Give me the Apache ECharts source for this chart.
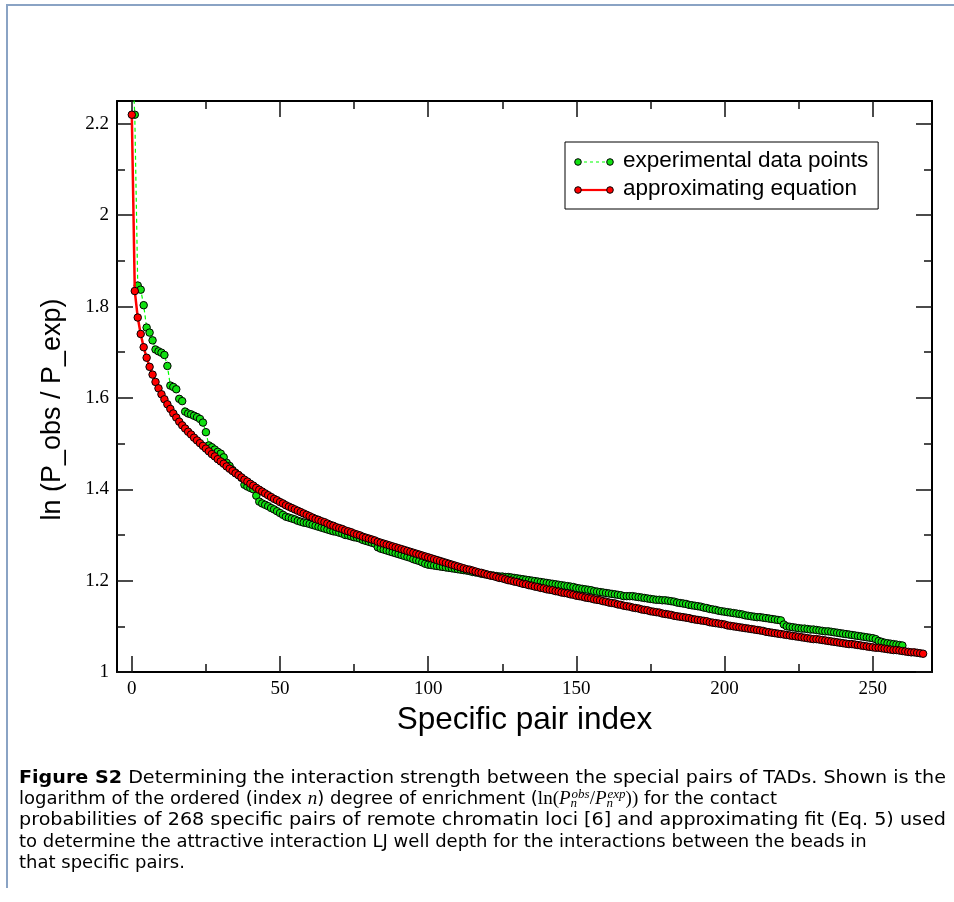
<!DOCTYPE html>
<html>
<head>
<meta charset="utf-8">
<title>Specific pair enrichment</title>
<script src="https://cdn.jsdelivr.net/npm/echarts@6/dist/echarts.min.js"></script>
<style>
  html, body { margin: 0; padding: 0; background: #fff; }
  #chart { width: 954px; height: 902px; }
</style>
</head>
<body>
<div id="chart"></div>
<script>
// Tick positions for both axes (major ticks carry labels, minor ticks are short marks)
const xMajorTicks = [0, 50, 100, 150, 200, 250];
const xMinorTicks = [25, 75, 125, 175, 225];
const yMajorTicks = [1, 1.2, 1.4, 1.6, 1.8, 2, 2.2];
const yMinorTicks = [1.1, 1.3, 1.5, 1.7, 1.9, 2.1];

const seriesNames = ['experimental data points', 'approximating equation'];

// ln(P_obs / P_exp) per ordered pair index n = 0, 1, 2, ...
const experimental = [
  2.36, 2.22, 1.846, 1.837, 1.803, 1.754, 1.743, 1.726, 1.706, 1.702,
  1.699, 1.694, 1.670, 1.627, 1.624, 1.619, 1.598, 1.593, 1.570, 1.566,
  1.564, 1.561, 1.558, 1.554, 1.546, 1.525, 1.496, 1.492, 1.487, 1.482,
  1.478, 1.470, 1.458, 1.451, 1.442, 1.436, 1.431, 1.425, 1.410, 1.406,
  1.403, 1.400, 1.386, 1.373, 1.369, 1.366, 1.363, 1.359, 1.356, 1.352,
  1.348, 1.344, 1.340, 1.338, 1.336, 1.334, 1.331, 1.329, 1.327, 1.326,
  1.324, 1.322, 1.320, 1.318, 1.316, 1.314, 1.312, 1.310, 1.308, 1.307,
  1.305, 1.303, 1.300, 1.299, 1.297, 1.295, 1.294, 1.292, 1.289, 1.287,
  1.285, 1.283, 1.281, 1.273, 1.270, 1.268, 1.266, 1.264, 1.262, 1.260,
  1.258, 1.256, 1.254, 1.252, 1.250, 1.247, 1.245, 1.243, 1.240, 1.237,
  1.235, 1.234, 1.233, 1.232, 1.231, 1.230, 1.229, 1.228, 1.227, 1.226,
  1.225, 1.224, 1.223, 1.222, 1.221, 1.219, 1.218, 1.217, 1.215, 1.214,
  1.213, 1.212, 1.211, 1.210, 1.209, 1.209, 1.208, 1.208, 1.207, 1.206,
  1.205, 1.204, 1.203, 1.202, 1.201, 1.200, 1.199, 1.198, 1.197, 1.196,
  1.195, 1.194, 1.193, 1.192, 1.191, 1.190, 1.189, 1.188, 1.187, 1.186,
  1.184, 1.183, 1.182, 1.181, 1.180, 1.179, 1.177, 1.176, 1.175, 1.174,
  1.173, 1.172, 1.171, 1.170, 1.169, 1.168, 1.166, 1.166, 1.166, 1.166,
  1.165, 1.164, 1.163, 1.162, 1.161, 1.160, 1.159, 1.158, 1.158, 1.157,
  1.157, 1.156, 1.155, 1.154, 1.152, 1.151, 1.150, 1.149, 1.147, 1.146,
  1.145, 1.144, 1.143, 1.141, 1.140, 1.138, 1.137, 1.136, 1.134, 1.133,
  1.132, 1.131, 1.130, 1.129, 1.128, 1.127, 1.126, 1.124, 1.123, 1.122,
  1.121, 1.120, 1.120, 1.119, 1.118, 1.117, 1.116, 1.115, 1.114, 1.113,
  1.104, 1.100, 1.099, 1.098, 1.097, 1.096, 1.095, 1.095, 1.094, 1.093,
  1.093, 1.092, 1.091, 1.090, 1.089, 1.089, 1.088, 1.087, 1.086, 1.085,
  1.084, 1.083, 1.082, 1.081, 1.080, 1.079, 1.078, 1.077, 1.076, 1.075,
  1.074, 1.072, 1.068, 1.066, 1.064, 1.063, 1.062, 1.061, 1.060, 1.059,
  1.058
];

// Fitted curve values per pair index n = 0, 1, 2, ...
const approximation = [
  2.220, 1.834, 1.776, 1.740, 1.711, 1.688, 1.668, 1.651, 1.635, 1.621,
  1.608, 1.597, 1.586, 1.576, 1.566, 1.557, 1.548, 1.540, 1.533, 1.526,
  1.520, 1.513, 1.507, 1.501, 1.495, 1.489, 1.483, 1.477, 1.472, 1.466,
  1.461, 1.456, 1.450, 1.445, 1.440, 1.435, 1.431, 1.426, 1.421, 1.417,
  1.412, 1.408, 1.403, 1.399, 1.395, 1.391, 1.387, 1.383, 1.379, 1.376,
  1.372, 1.369, 1.365, 1.362, 1.359, 1.356, 1.353, 1.350, 1.347, 1.344,
  1.341, 1.338, 1.335, 1.333, 1.330, 1.328, 1.325, 1.322, 1.320, 1.317,
  1.315, 1.313, 1.310, 1.308, 1.306, 1.303, 1.301, 1.299, 1.296, 1.294,
  1.292, 1.290, 1.288, 1.285, 1.283, 1.281, 1.279, 1.277, 1.275, 1.273,
  1.271, 1.269, 1.267, 1.265, 1.263, 1.261, 1.259, 1.257, 1.255, 1.253,
  1.251, 1.249, 1.247, 1.245, 1.243, 1.241, 1.239, 1.237, 1.235, 1.233,
  1.231, 1.229, 1.227, 1.225, 1.224, 1.222, 1.220, 1.218, 1.217, 1.215,
  1.213, 1.211, 1.210, 1.208, 1.206, 1.205, 1.203, 1.201, 1.200, 1.198,
  1.197, 1.195, 1.193, 1.192, 1.190, 1.189, 1.187, 1.186, 1.184, 1.183,
  1.181, 1.180, 1.179, 1.177, 1.176, 1.174, 1.173, 1.172, 1.170, 1.169,
  1.167, 1.166, 1.165, 1.163, 1.162, 1.161, 1.159, 1.158, 1.157, 1.155,
  1.154, 1.152, 1.151, 1.150, 1.148, 1.147, 1.145, 1.144, 1.143, 1.141,
  1.140, 1.139, 1.137, 1.136, 1.135, 1.133, 1.132, 1.131, 1.130, 1.128,
  1.127, 1.126, 1.125, 1.123, 1.122, 1.121, 1.120, 1.119, 1.118, 1.116,
  1.115, 1.114, 1.113, 1.112, 1.111, 1.109, 1.108, 1.107, 1.106, 1.105,
  1.104, 1.102, 1.101, 1.100, 1.099, 1.098, 1.097, 1.096, 1.095, 1.094,
  1.093, 1.092, 1.091, 1.090, 1.088, 1.087, 1.086, 1.085, 1.084, 1.083,
  1.082, 1.081, 1.080, 1.079, 1.078, 1.077, 1.076, 1.075, 1.074, 1.073,
  1.072, 1.072, 1.071, 1.070, 1.069, 1.068, 1.067, 1.066, 1.065, 1.064,
  1.063, 1.062, 1.061, 1.061, 1.060, 1.059, 1.058, 1.057, 1.056, 1.055,
  1.054, 1.053, 1.053, 1.052, 1.051, 1.050, 1.049, 1.048, 1.048, 1.047,
  1.046, 1.045, 1.044, 1.043, 1.043, 1.042, 1.041, 1.040
];

// Caption text; 'fit' lines are widened to the full text measure
const captionLines = [
  { bold: 'Figure S2', text: ' Determining the interaction strength between the special pairs of TADs. Shown is the', fit: true },
  { rich: 'logarithm of the ordered (index {it|n}) degree of enrichment ({rm|ln(}{it|P}{sub|n}{sup|obs}{rm|/}{it|P}{sub|n}{sup|exp}{rm|))} for the contact' },
  { text: 'probabilities of 268 specific pairs of remote chromatin loci [6] and approximating fit (Eq. 5) used', fit: true },
  { text: 'to determine the attractive interaction LJ well depth for the interactions between the beads in' },
  { text: 'that specific pairs.' }
];

const GREEN = '#11e011';
const RED = '#ff0000';
const X_RANGE = [-5, 270];
const Y_RANGE = [1, 2.25];

function xAxisFor(position, ticks, len, showLine, showLabels, extra) {
  return Object.assign({
    type: 'value', gridIndex: 0, position: position,
    min: X_RANGE[0], max: X_RANGE[1],
    axisLine: { show: showLine, onZero: false, lineStyle: { color: '#000', width: 2 } },
    axisTick: { show: true, inside: true, length: len, customValues: ticks,
                lineStyle: { color: '#111', width: 1.5 } },
    axisLabel: { show: showLabels, customValues: ticks, margin: 8,
                 fontFamily: 'Liberation Serif', fontSize: 19, color: '#000' },
    splitLine: { show: false }
  }, extra || {});
}

function yAxisFor(position, ticks, len, showLine, showLabels, extra) {
  return Object.assign({
    type: 'value', gridIndex: 0, position: position,
    min: Y_RANGE[0], max: Y_RANGE[1],
    axisLine: { show: showLine, onZero: false, lineStyle: { color: '#000', width: 2 } },
    axisTick: { show: true, inside: true, length: len, customValues: ticks,
                lineStyle: { color: '#111', width: 1.5 } },
    axisLabel: { show: showLabels, customValues: ticks, margin: 8,
                 fontFamily: 'Liberation Serif', fontSize: 19, color: '#000',
                 formatter: function (v) { return String(v); } },
    splitLine: { show: false }
  }, extra || {});
}

const CAP_LEFT = 19, CAP_RIGHT = 946, CAP_TOP = 778, CAP_STEP = 21.4;
const CAP_SIZE = 18;
const capFont = function (bold) {
  return (bold ? 'bold ' : '') + CAP_SIZE + 'px "DejaVu Sans"';
};

const captionRich = {
  b:   { fontFamily: 'DejaVu Sans', fontWeight: 'bold', fontSize: CAP_SIZE, lineHeight: 22, color: '#000' },
  it:  { fontFamily: 'Liberation Serif', fontStyle: 'italic', fontSize: 19, lineHeight: 22, color: '#000' },
  rm:  { fontFamily: 'Liberation Serif', fontSize: 19, lineHeight: 22, color: '#000' },
  sub: { fontFamily: 'Liberation Serif', fontStyle: 'italic', fontSize: 13, lineHeight: 12,
         verticalAlign: 'bottom', width: 1, color: '#000' },
  sup: { fontFamily: 'Liberation Serif', fontStyle: 'italic', fontSize: 13, lineHeight: 12,
         verticalAlign: 'top', color: '#000' }
};

const measureCtx = document.createElement('canvas').getContext('2d');
function textWidth(str, font) {
  measureCtx.font = font;
  return measureCtx.measureText(str).width;
}

function buildCaption() {
  return captionLines.map(function (line, i) {
    let text = line.rich || line.text;
    let sx = 1;
    if (line.fit) {
      let natural = textWidth(line.text, capFont(false));
      if (line.bold) {
        natural += textWidth(line.bold, capFont(true));
        text = '{b|' + line.bold + '}' + line.text;
      }
      sx = (CAP_RIGHT - CAP_LEFT) / natural;
    }
    return {
      type: 'text', x: CAP_LEFT, y: CAP_TOP + i * CAP_STEP, scaleX: sx, z: 10,
      style: {
        text: text, rich: captionRich,
        fontFamily: 'DejaVu Sans', fontSize: CAP_SIZE, lineHeight: 22,
        fill: '#000', align: 'left', verticalAlign: 'middle'
      }
    };
  });
}

// Legend keys: a line segment with a marker at each end
function legendKey(y, color, lineWidth, dash) {
  const x1 = 578, x2 = 610;
  return [
    { type: 'line', z: 20, shape: { x1: x1, y1: y, x2: x2, y2: y },
      style: { stroke: dash ? '#00ff00' : color, lineWidth: lineWidth, lineDash: dash || null } },
    { type: 'circle', z: 21, shape: { cx: x1, cy: y, r: 3.3 },
      style: { fill: color, stroke: '#000', lineWidth: 1 } },
    { type: 'circle', z: 21, shape: { cx: x2, cy: y, r: 3.3 },
      style: { fill: color, stroke: '#000', lineWidth: 1 } }
  ];
}

const frameElements = [
  { type: 'line', z: 1, shape: { x1: 7, y1: 5, x2: 954, y2: 5 },
    style: { stroke: '#8aa3c4', lineWidth: 2 } },
  { type: 'line', z: 1, shape: { x1: 7, y1: 4, x2: 7, y2: 888 },
    style: { stroke: '#8aa3c4', lineWidth: 2 } }
];

const chart = echarts.init(document.getElementById('chart'), null, { renderer: 'canvas' });

chart.setOption({
  animation: false,
  backgroundColor: '#fff',
  grid: { left: 117, right: 22, top: 101, bottom: 230, containLabel: false },
  xAxis: [
    xAxisFor('bottom', xMajorTicks, 16, true, true, {
      name: 'Specific pair index', nameLocation: 'middle', nameGap: 30,
      nameTextStyle: { fontFamily: 'Liberation Sans', fontSize: 31.5, color: '#000' }
    }),
    xAxisFor('bottom', xMinorTicks, 8, false, false),
    xAxisFor('top', xMajorTicks, 16, true, false),
    xAxisFor('top', xMinorTicks, 8, false, false)
  ],
  yAxis: [
    yAxisFor('left', yMajorTicks, 16, true, true, {
      name: 'ln (P_obs / P_exp)', nameLocation: 'middle', nameGap: 51, nameRotate: 90,
      nameTextStyle: { fontFamily: 'Liberation Sans', fontSize: 27, color: '#000',
                       padding: [0, 46, 0, 0] }
    }),
    yAxisFor('left', yMinorTicks, 8, false, false),
    yAxisFor('right', yMajorTicks, 16, true, false),
    yAxisFor('right', yMinorTicks, 8, false, false)
  ],
  legend: {
    orient: 'vertical', left: 565, top: 142,
    padding: [5, 10, 6, 8],
    borderColor: '#000', borderWidth: 1, backgroundColor: '#fff',
    itemWidth: 45, itemHeight: 14, itemGap: 0,
    icon: 'rect', selectedMode: false,
    itemStyle: { opacity: 0, borderWidth: 0 },
    lineStyle: { opacity: 0, width: 0 },
    textStyle: { fontFamily: 'Liberation Sans', fontSize: 22.5, color: '#000', lineHeight: 28 },
    data: seriesNames
  },
  series: [
    {
      name: seriesNames[0], type: 'line', xAxisIndex: 0, yAxisIndex: 0,
      data: experimental.map(function (v, i) { return [i, v]; }),
      symbol: 'circle', symbolSize: 7.5, showAllSymbol: true,
      lineStyle: { color: '#00ff00', width: 1.2, type: [4, 3] },
      itemStyle: { color: GREEN, borderColor: '#000', borderWidth: 1 },
      emphasis: { disabled: true }, z: 2
    },
    {
      name: seriesNames[1], type: 'line', xAxisIndex: 0, yAxisIndex: 0,
      data: approximation.map(function (v, i) { return [i, v]; }),
      symbol: 'circle', symbolSize: 7.5, showAllSymbol: true,
      lineStyle: { color: RED, width: 2.5 },
      itemStyle: { color: RED, borderColor: '#000', borderWidth: 1 },
      emphasis: { disabled: true }, z: 3
    }
  ],
  graphic: [].concat(
    frameElements,
    legendKey(162, GREEN, 1.2, [3, 3]),
    legendKey(190, RED, 2.2, null),
    buildCaption()
  )
});
</script>
</body>
</html>
